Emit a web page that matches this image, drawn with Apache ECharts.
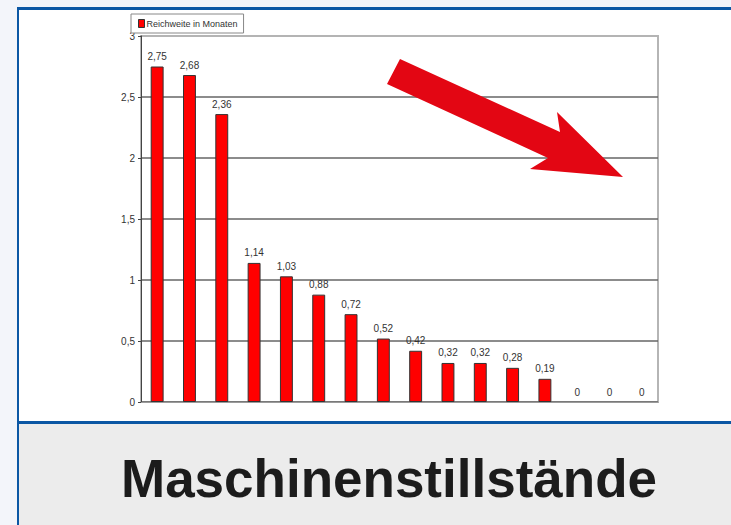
<!DOCTYPE html>
<html><head><meta charset="utf-8">
<script src="https://cdn.jsdelivr.net/npm/echarts@6/dist/echarts.min.js"></script>
<style>html,body{margin:0;padding:0;background:#f3f5fa;}#c{width:731px;height:525px;}</style>
</head><body><div id="c"></div>
<script>
const categories = ['1','2','3','4','5','6','7','8','9','10','11','12','13','14','15','16'];
const values = [2.75, 2.68, 2.36, 1.14, 1.03, 0.88, 0.72, 0.52, 0.42, 0.32, 0.32, 0.28, 0.19, 0, 0, 0];
const seriesName = 'Reichweite in Monaten';
const titleText = 'Maschinenstillstände';
const comma = v => String(v).replace('.', ',');

const barData = values.map(v => v === 0 ? {value: v, itemStyle: {borderWidth: 0}} : v);

const chart = echarts.init(document.getElementById('c'), null, {renderer: 'svg'});
chart.setOption({
  backgroundColor: '#f3f5fa',
  animation: false,
  graphic: [
    {type: 'rect', z: -10, shape: {x: 17, y: 7, width: 714, height: 518}, style: {fill: '#0b57a4'}},
    {type: 'rect', z: -9, shape: {x: 19, y: 10, width: 712, height: 411}, style: {fill: '#ffffff'}},
    {type: 'rect', z: -9, shape: {x: 19, y: 424, width: 712, height: 101}, style: {fill: '#ececec'}},
    {type: 'text', z: 5, style: {text: titleText, x: 389, y: 478, font: 'bold 53px "Liberation Sans", Arial, sans-serif', fill: '#1c1c1c', align: 'center', verticalAlign: 'middle'}},
    {type: 'polygon', z: 50, shape: {points: [[400, 59], [560, 132], [557, 112], [623, 177], [530, 169], [548, 158], [387, 84]]}, style: {fill: '#e30613'}}
  ],
  legend: {
    data: [seriesName],
    left: 131, top: 14,
    padding: [5, 6, 5, 7],
    itemWidth: 6, itemHeight: 8, itemGap: 2,
    icon: 'rect',
    backgroundColor: '#ffffff',
    borderColor: '#888', borderWidth: 1,
    textStyle: {fontSize: 9, color: '#333', fontFamily: '"Liberation Sans", Arial, sans-serif', padding: [0, 0, 0, -3]},
    itemStyle: {borderColor: '#333', borderWidth: 1}
  },
  grid: {left: 141, right: 73, top: 36, bottom: 123, show: true, borderColor: '#b5b5b5', borderWidth: 2, backgroundColor: 'transparent'},
  xAxis: {
    type: 'category', data: categories,
    axisLine: {lineStyle: {color: '#9a9a9a', width: 1}},
    axisTick: {show: false}, axisLabel: {show: false}
  },
  yAxis: {
    type: 'value', min: 0, max: 3, interval: 0.5,
    axisLine: {show: true, lineStyle: {color: '#444', width: 1}},
    axisTick: {show: true, length: 3, lineStyle: {color: '#444'}},
    axisLabel: {formatter: comma, fontSize: 10, color: '#333', margin: 6, fontFamily: '"Liberation Sans", Arial, sans-serif'},
    splitLine: {show: true, lineStyle: {color: ['#666','#666','#666','#666','#666','#666','#b5b5b5'], width: 1.5}}
  },
  series: [{
    name: seriesName, type: 'bar', data: barData, barWidth: '40%',
    itemStyle: {color: '#ff0000', borderColor: '#333', borderWidth: 1},
    label: {show: true, position: 'top', distance: 5, formatter: p => comma(p.value), fontSize: 10, color: '#333', fontFamily: '"Liberation Sans", Arial, sans-serif'}
  }]
});
</script></body></html>
